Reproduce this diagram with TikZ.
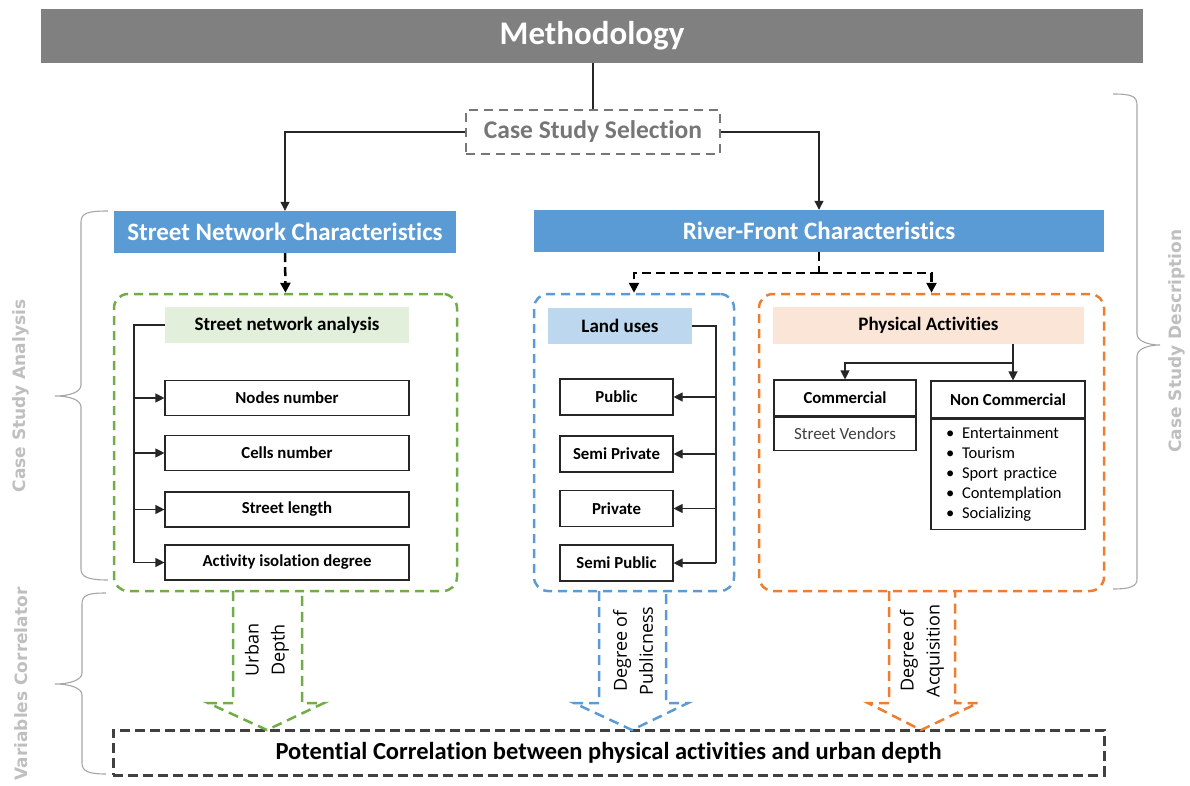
\documentclass[tikz,border=0pt]{standalone}
\usepackage{fontspec}
\setmainfont{Carlito}[Ligatures=NoCommon]
\newfontfamily\sidefont{DejaVu Sans}
\newfontfamily\arrowfont{Open Sans}
\usetikzlibrary{arrows.meta,positioning}

\definecolor{methgray}{RGB}{128,128,128}
\definecolor{headblue}{RGB}{91,155,213}
\definecolor{framegreen}{RGB}{112,173,71}
\definecolor{frameorange}{RGB}{237,125,49}
\definecolor{lightgreen}{RGB}{226,239,218}
\definecolor{lightblue}{RGB}{189,215,238}
\definecolor{lightorange}{RGB}{251,229,214}
\definecolor{bracegray}{RGB}{166,166,166}
\definecolor{labelgray}{RGB}{191,191,191}
\definecolor{selgray}{RGB}{118,118,118}
\definecolor{darkframe}{RGB}{64,64,64}

\tikzset{
  headbar/.style={fill=headblue, text=white, inner sep=0pt,
    font=\bfseries\fontsize{25}{29}\selectfont},
  subhead/.style={inner sep=0pt, font=\bfseries\fontsize{19}{22}\selectfont},
  itembox/.style={draw=black!85, line width=1.1pt, fill=white, inner sep=0pt,
    font=\bfseries\fontsize{16.8}{19}\selectfont},
  groupbox/.style={draw=#1, line width=2.5pt, dash pattern=on 9pt off 6pt,
    rounded corners=14pt, inner sep=0pt},
  plain/.style={draw=black!85, line width=1.1pt},
  link/.style={plain, -{Triangle[width=9pt,length=9pt]}},
  dline/.style={draw=black, line width=2.5pt, dash pattern=on 9pt off 5pt},
  dlink/.style={dline, -{Triangle[width=10pt,length=10pt]}},
  bigarrow/.style={draw=#1, line width=2.5pt, dash pattern=on 10pt off 6pt},
  arrowlabel/.style={rotate=90, align=center, inner sep=0pt,
    font=\arrowfont\fontsize{18}{26}\selectfont},
  sidebrace/.style={draw=bracegray, line width=1.1pt},
  sidelabel/.style={rotate=90, text=labelgray, inner sep=0pt,
    font=\sidefont\bfseries\fontsize{17}{20}\selectfont}
}

\begin{document}
\begin{tikzpicture}[x=1pt,y=-1pt]
\useasboundingbox (0,0) rectangle (1190,786);

% title and selection
\node[fill=methgray, text=white, minimum width=1102, minimum height=54, inner sep=0pt,
  font=\bfseries\fontsize{33}{38}\selectfont] (meth) at (592,36) {Methodology};
\node[draw=selgray, line width=2.5pt, dash pattern=on 9pt off 6pt, text=selgray,
  minimum width=254, minimum height=44, inner sep=0pt,
  font=\bfseries\fontsize{25.5}{29}\selectfont] (css) at (593,132) {Case Study Selection};
\node[headbar, minimum width=342, minimum height=42] (snc) at (285,232) {Street Network Characteristics};
\node[headbar, minimum width=570, minimum height=42] (rfc) at (819,231) {River-Front Characteristics};

\draw[plain] (css.north) -- (css.north |- meth.south);
\draw[link] (css.west) -| (snc.north);
\draw[link] (css.east) -| (rfc.north);

% dashed groups
\node[groupbox=framegreen, minimum width=343, minimum height=297] (snbox) at (285.5,442.5) {};
\node[groupbox=headblue, minimum width=200, minimum height=297] (lubox) at (634,442.5) {};
\node[groupbox=frameorange, minimum width=345, minimum height=297] (pabox) at (931.5,442.5) {};

\draw[dlink] (snc.south) -- (snbox.north);
\coordinate (fork) at (819,273);
\draw[dline] (rfc.south) -- (fork);
\draw[dlink] (fork) -| (lubox.north);
\draw[dlink] (fork) -| (pabox.north);

% street network
\node[subhead, fill=lightgreen, minimum width=244, minimum height=36] (sna) at (287,325) {Street network analysis};
\node[itembox, minimum width=244, minimum height=35] (nodes) at (287,398) {Nodes number};
\node[itembox, minimum width=244, minimum height=35] (cells) at (287,453) {Cells number};
\node[itembox, minimum width=244, minimum height=35] (length) at (287,509.5) {Street length};
\node[itembox, minimum width=244, minimum height=35] (isol) at (287,562.5) {Activity isolation degree};
\coordinate (snspine) at (134,325);
\draw[plain] (sna.west) -- (snspine) -- (snspine |- isol.west);
\foreach \n in {nodes,cells,length,isol}
  \draw[link] (snspine |- \n.west) -- (\n.west);

% land uses
\node[subhead, fill=lightblue, minimum width=144, minimum height=36] (lu) at (620,326) {Land uses};
\node[itembox, minimum width=113, minimum height=36] (pub) at (616.5,397) {Public};
\node[itembox, minimum width=113, minimum height=36] (spriv) at (616.5,454) {Semi Private};
\node[itembox, minimum width=113, minimum height=36] (priv) at (616.5,508.5) {Private};
\node[itembox, minimum width=113, minimum height=36] (spub) at (616.5,563) {Semi Public};
\coordinate (luspine) at (716,326);
\draw[plain] (lu.east) -- (luspine) -- (luspine |- spub.east);
\foreach \n in {pub,spriv,priv,spub}
  \draw[link] (luspine |- \n.east) -- (\n.east);

% physical activities
\node[subhead, fill=lightorange, minimum width=311, minimum height=37] (pa) at (928.5,325.5) {Physical Activities};
\node[itembox, minimum width=142, minimum height=36] (comm) at (845,398) {Commercial};
\node[itembox, minimum width=142, minimum height=33, anchor=north,
  font=\fontsize{17}{20}\selectfont, text=darkframe] (vend) at (comm.south) {Street Vendors};
\node[itembox, minimum width=154, minimum height=37] (ncomm) at (1008,399.5) {Non Commercial};
\node[itembox, minimum width=154, minimum height=110, anchor=north, text width=124,
  align=left, font=\fontsize{16.5}{20}\selectfont] (nclist) at (ncomm.south)
  {\makebox[16pt][l]{\textbullet}Entertainment\\
   \makebox[16pt][l]{\textbullet}Tourism\\
   \makebox[16pt][l]{\textbullet}Sport practice\\
   \makebox[16pt][l]{\textbullet}Contemplation\\
   \makebox[16pt][l]{\textbullet}Socializing};
\coordinate (pafork) at (1013,363);
\draw[plain] (pafork |- pa.south) -- (pafork);
\draw[link] (pafork) -| (comm.north);
\draw[link] (pafork) -- (pafork |- ncomm.north);

% correlation
\node[draw=darkframe, line width=3pt, dash pattern=on 10pt off 5pt, minimum width=991,
  minimum height=45, inner sep=0pt, font=\bfseries\fontsize{24.5}{28}\selectfont]
  (corr) at (608.5,752.5) {Potential Correlation between physical activities and urban depth};

\draw[bigarrow=framegreen] (233,591) -- (233,703) -- (208,703) -- (267,730) -- (324,703) -- (302,703) -- (302,591);
\draw[bigarrow=headblue] (599,591) -- (599,703) -- (574,703) -- (632,730) -- (688,703) -- (666,703) -- (666,591);
\draw[bigarrow=frameorange] (889,591) -- (889,703) -- (868,703) -- (921,730) -- (978,703) -- (955,703) -- (955,591);
\node[arrowlabel] (udepth) at (267,650) {Urban\\Depth};
\node[arrowlabel] (dpub) at (633,651) {Degree of\\Publicness};
\node[arrowlabel] (dacq) at (922,651) {Degree of\\Acquisition};

% side braces
\draw[sidebrace] (108,211) .. controls (88,211) and (81,213) .. (81,222) -- (81,385)
  .. controls (81,392) and (70,396) .. (55,396) .. controls (70,396) and (81,400) .. (81,407)
  -- (81,569) .. controls (81,577) and (88,580) .. (108,580);
\draw[sidebrace] (106,593) .. controls (88,593) and (82,595) .. (82,604) -- (82,673)
  .. controls (82,680) and (70,684) .. (55,684) .. controls (70,684) and (82,688) .. (82,695)
  -- (82,763) .. controls (82,771) and (88,774) .. (106,774);
\draw[sidebrace] (1113,94) .. controls (1131,94) and (1137,96) .. (1137,105) -- (1137,334)
  .. controls (1137,341) and (1148,345) .. (1160,345) .. controls (1148,345) and (1137,349) .. (1137,356)
  -- (1137,579) .. controls (1137,586) and (1131,589) .. (1113,589);
\node[sidelabel] (csa) at (21,396) {Case Study Analysis};
\node[sidelabel] (vcorr) at (21,684) {Variables Correlator};
\node[sidelabel] (csd) at (1177,341) {Case Study Description};
\end{tikzpicture}
\end{document}
